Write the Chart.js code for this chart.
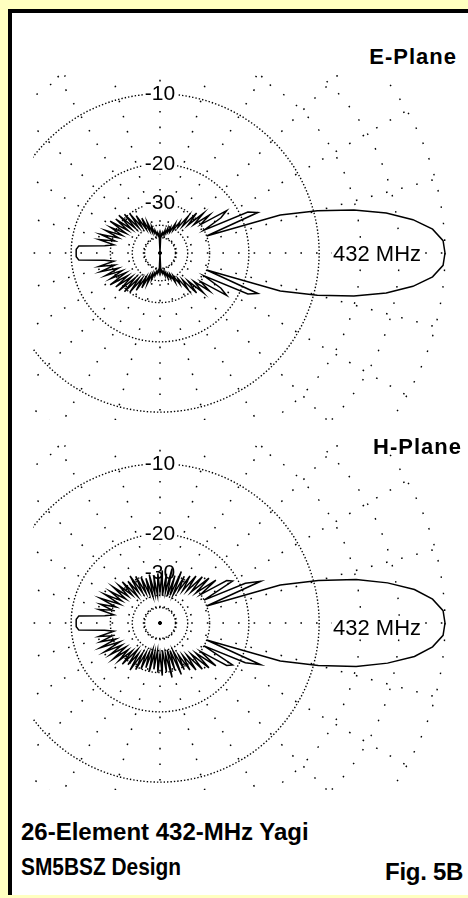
<!DOCTYPE html>
<html>
<head>
<meta charset="utf-8">
<title>26-Element 432-MHz Yagi</title>
<script src="https://cdn.jsdelivr.net/npm/chart.js@4.4.0/dist/chart.umd.min.js"></script>
<style>
  html, body { margin: 0; padding: 0; }
  body {
    width: 468px; height: 898px; position: relative; overflow: hidden;
    background: #FFFFC0;
    font-family: "Liberation Sans", Arial, sans-serif; color: #000;
  }
  #panel {
    position: absolute; left: 8px; top: 9px; width: 470px; height: 882px;
    background: #fff; border-left: 4px solid #000; border-top: 4px solid #000;
  }
  .plot { position: absolute; left: 33px; width: 416px; height: 345px; overflow: hidden; }
  .plot canvas { position: absolute; }
  .txt { position: absolute; line-height: 1; white-space: nowrap; transform-origin: left top; }
  .bold { font-weight: bold; }
  .freq { font-size: 22px; background: #fff; padding: 0 1px; }
</style>
</head>
<body>
<div id="panel"></div>

<div class="plot" id="wrapE" style="top:75px"><canvas id="eplane" width="600" height="600"></canvas></div>
<div class="plot" id="wrapH" style="top:445px"><canvas id="hplane" width="600" height="600"></canvas></div>

<div class="txt bold" style="right:11px; top:46px; font-size:22px; letter-spacing:1px">E-Plane</div>
<div class="txt bold" style="right:6px; top:436px; font-size:22px; letter-spacing:1px">H-Plane</div>
<div class="txt freq" style="left:332px; top:243px">432 MHz</div>
<div class="txt freq" style="left:332px; top:617px">432 MHz</div>
<div class="txt bold" style="left:21px; top:820px; font-size:24px">26-Element 432-MHz Yagi</div>
<div class="txt bold" style="left:21px; top:855px; font-size:24px; transform:scaleX(0.87)">SM5BSZ Design</div>
<div class="txt bold" style="right:5px; top:860px; font-size:24px; letter-spacing:-0.3px">Fig. 5B</div>

<script>
// 📐 DATA (dB relative to the main lobe, 0..180 deg off boresight, pattern is symmetric)
const azimuth = [
    0, 2.5, 5, 7.5, 10, 12.5, 15, 17.5, 20, 22.5, 25, 27.5, 30, 32.5, 35, 37.5,
    40, 42.5, 45, 47.5, 50, 52.5, 55, 57.5, 60, 62.5, 65, 67.5, 70, 72.5, 75, 77.5,
    80, 82.5, 85, 87.5, 90, 92.5, 95, 97.5, 100, 102.5, 105, 107.5, 110, 112.5, 115, 117.5,
    120, 122.5, 125, 127.5, 130, 132.5, 135, 137.5, 140, 142.5, 145, 147.5, 150, 152.5, 155, 157.5,
    160, 162.5, 165, 167.5, 170, 172.5, 175, 177.5, 180
];

const ePlaneDb = [
    0, -0.1, -0.7, -1.9, -3.7, -6.2, -9.6, -14, -30, -17, -18.5, -30, -24, -22, -30, -26,
    -32, -27, -34, -28.5, -36, -31, -38, -35, -41, -37, -43, -40, -44, -41, -46, -43,
    -47, -45, -48, -46, -99, -46, -48, -45, -47, -43, -45, -40, -44, -37, -42, -34,
    -40, -32, -38, -30, -37, -29, -36, -28, -35, -28, -34, -27, -34, -28, -33, -27,
    -32, -26, -31, -26, -31, -28, -21.5, -21, -21
];

const hPlaneDb = [
    0, -0.1, -0.7, -1.8, -3.6, -6, -9.5, -14, -30, -16.5, -19, -30, -21, -22, -30, -24,
    -31, -25, -32, -26, -33, -27, -34, -28, -35, -29, -38, -28, -39, -30, -40, -28,
    -38, -30, -40, -29, -38, -30, -40, -31, -39, -30, -40, -31, -38, -30, -37, -29,
    -36, -28, -35, -29, -36, -28, -34, -28, -33, -27, -33, -27, -32, -26, -32, -25.5,
    -31, -26, -30, -26, -31, -28, -21.5, -21, -21
];

// grid rings (dB) and which of them carry a label
const ringDb = [-50, -40, -30, -20, -10, -6, -3, 0];
const denseRings = [-50, -40, -30, -20, -10];
const labeledRings = [-30, -20, -10];
const ringLabels = ["-30", "-20", "-10"];

const centers = { eplane: [160, 253], hplane: [160, 623] };
const outerRadius = 285;   // 0 dB ring in px
const spokeEvery = 15;     // degrees between dotted radials

const step = azimuth[1] - azimuth[0];

// ARRL log-periodic scale: radius shrinks by 0.89 for every 2 dB
function toRadius(db) {
    return Math.pow(0.89, -db / 2);
}

// radar index 0 sits on top, so spoke i is (90 - i*step) deg from boresight
function ringValues(halfPattern) {
    const out = [];
    for (let i = 0; i < 360 / step; i++) {
        let a = ((90 - i * step) % 360 + 360) % 360;
        if (a > 180) a = 360 - a;
        out.push(toRadius(halfPattern[azimuth.indexOf(a)]));
    }
    return out;
}

// 📊 CHART
function drawPlane(id, halfPattern) {
    const values = ringValues(halfPattern);
    const canvas = document.getElementById(id);

    const chart = new Chart(canvas, {
        type: "radar",
        data: {
            labels: values.map((_, i) => i * step),
            datasets: [{
                data: values,
                borderColor: "#000",
                borderWidth: 1.5,
                pointRadius: 0,
                fill: false,
                tension: 0
            }]
        },
        options: {
            responsive: false,
            animation: false,
            devicePixelRatio: 1,
            layout: { padding: 0 },
            plugins: {
                legend: { display: false },
                tooltip: { enabled: false }
            },
            scales: {
                r: {
                    min: 0,
                    max: 1,
                    startAngle: 0,
                    afterBuildTicks: (scale) => {
                        scale.ticks = [{ value: 0, db: null }].concat(
                            ringDb.map(d => ({ value: toRadius(d), db: d }))
                        );
                    },
                    ticks: {
                        display: true,
                        callback: (v, i, ticks) => {
                            const k = labeledRings.indexOf(ticks[i].db);
                            return k < 0 ? "" : ringLabels[k];
                        },
                        font: { family: "Liberation Sans", size: 21 },
                        color: "#000",
                        backdropColor: "#fff",
                        backdropPadding: { x: 2, y: 0 },
                        showLabelBackdrop: (c) => !!(c.tick && c.tick.label)
                    },
                    pointLabels: { display: false },
                    grid: { circular: true, color: "#000", lineWidth: 1.4 },
                    border: {
                        dash: (c) => (c.tick && denseRings.includes(c.tick.db)) ? [1.4, 2] : [1.6, 15]
                    },
                    angleLines: {
                        display: true,
                        color: (c) => ((c.index * step) % spokeEvery === 0) ? "#000" : "rgba(0,0,0,0)",
                        lineWidth: 1.5,
                        borderDash: [1.6, 14]
                    }
                }
            }
        }
    });

    // keep 0 dB exactly on outerRadius whatever padding the scale took
    let r = chart.scales.r;
    if (r.drawingArea !== outerRadius) {
        chart.options.scales.r.max = r.drawingArea / outerRadius;
        chart.update();
        r = chart.scales.r;
    }

    const wrap = canvas.parentElement;
    const [cx, cy] = centers[id];
    canvas.style.left = (cx - r.xCenter - wrap.offsetLeft) + "px";
    canvas.style.top = (cy - r.yCenter - wrap.offsetTop) + "px";
}

drawPlane("eplane", ePlaneDb);
drawPlane("hplane", hPlaneDb);
</script>
</body>
</html>
